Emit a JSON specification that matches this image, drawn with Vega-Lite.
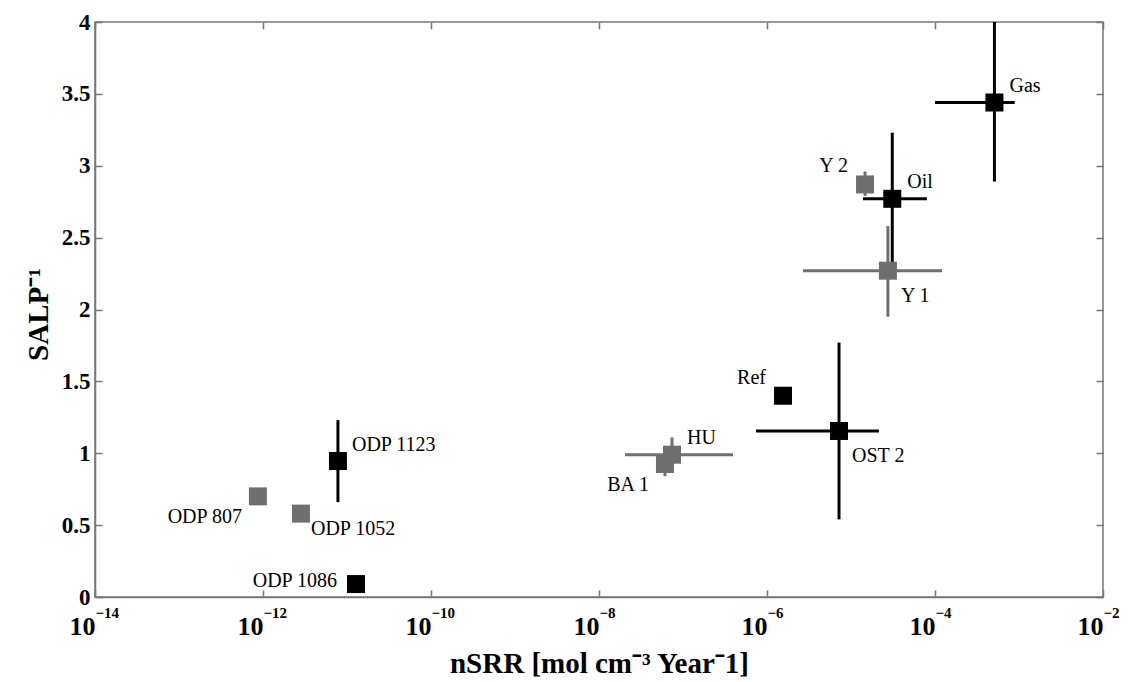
{
  "$schema": "https://vega.github.io/schema/vega-lite/v6.json",
  "width": 1008,
  "height": 575,
  "autosize": {"type": "none"},
  "padding": {"left": 95, "top": 22, "right": 27, "bottom": 85},
  "background": "white",
  "config": {
    "view": {"stroke": "#777777", "strokeWidth": 1.5},
    "font": "Liberation Serif",
    "axis": {
      "grid": false,
      "domainColor": "#777777",
      "domainWidth": 1.5,
      "tickColor": "#777777",
      "tickWidth": 1.5,
      "labelFont": "Liberation Serif",
      "labelFontWeight": "bold",
      "labelFontSize": 23,
      "labelColor": "#000000",
      "titleFont": "Liberation Serif",
      "titleFontWeight": "bold",
      "titleFontSize": 29,
      "titleColor": "#000000"
    }
  },
  "data": {
    "values": [
      {"name": "Gas", "set": "black", "x": 5.1e-4, "y": 3.44, "xlo": 1.0e-4, "xhi": 8.9e-4, "ylo": 2.89, "yhi": 4.0},
      {"name": "Oil", "set": "black", "x": 3.1e-5, "y": 2.77, "xlo": 1.39e-5, "xhi": 8.0e-5, "ylo": 2.31, "yhi": 3.23},
      {"name": "Y 2", "set": "gray", "x": 1.47e-5, "y": 2.87, "xlo": null, "xhi": null, "ylo": 2.79, "yhi": 2.96},
      {"name": "Y 1", "set": "gray", "x": 2.75e-5, "y": 2.27, "xlo": 2.68e-6, "xhi": 1.21e-4, "ylo": 1.95, "yhi": 2.58},
      {"name": "Ref", "set": "black", "x": 1.55e-6, "y": 1.40, "xlo": null, "xhi": null, "ylo": null, "yhi": null},
      {"name": "OST 2", "set": "black", "x": 7.2e-6, "y": 1.155, "xlo": 7.4e-7, "xhi": 2.15e-5, "ylo": 0.54, "yhi": 1.77},
      {"name": "HU", "set": "gray", "x": 7.4e-8, "y": 0.99, "xlo": 2.04e-8, "xhi": 3.94e-7, "ylo": 0.87, "yhi": 1.11},
      {"name": "BA 1", "set": "gray", "x": 6.1e-8, "y": 0.925, "xlo": null, "xhi": null, "ylo": 0.84, "yhi": 1.0},
      {"name": "ODP 1123", "set": "black", "x": 7.8e-12, "y": 0.946, "xlo": null, "xhi": null, "ylo": 0.66, "yhi": 1.23},
      {"name": "ODP 807", "set": "gray", "x": 8.7e-13, "y": 0.70, "xlo": null, "xhi": null, "ylo": null, "yhi": null},
      {"name": "ODP 1052", "set": "gray", "x": 2.83e-12, "y": 0.58, "xlo": null, "xhi": null, "ylo": null, "yhi": null},
      {"name": "ODP 1086", "set": "black", "x": 1.28e-11, "y": 0.09, "xlo": null, "xhi": null, "ylo": null, "yhi": null}
    ]
  },
  "resolve": {"axis": {"x": "independent", "y": "independent"}},
  "layer": [
    {
      "transform": [{"filter": "datum.xlo != null"}],
      "mark": {"type": "rule", "strokeWidth": 3, "clip": true},
      "encoding": {
        "x": {"field": "xlo", "type": "quantitative",
          "scale": {"type": "log", "domain": [1e-14, 1e-2], "nice": false},
          "axis": {
            "values": [1e-14, 1e-12, 1e-10, 1e-8, 1e-6, 1e-4, 1e-2],
            "labelExpr": "'10'",
            "labelFontSize": 26,
            "labelBaseline": "alphabetic",
            "labelAlign": "right",
            "tickSize": -7,
            "labelPadding": 44,
            "labelFlush": false,
            "labelOverlap": false,
            "title": "nSRR [mol cm⁻³ Year⁻1]",
            "titleBaseline": "alphabetic",
            "titleY": 75
          }},
        "x2": {"field": "xhi"},
        "y": {"field": "y", "type": "quantitative",
          "scale": {"domain": [0, 4], "nice": false},
          "axis": {
            "values": [0, 0.5, 1, 1.5, 2, 2.5, 3, 3.5, 4],
            "format": "~g",
            "tickSize": -7,
            "labelPadding": 12,
            "labelFlush": false,
            "title": "SALP⁻¹",
            "titleBaseline": "alphabetic",
            "titleX": -48,
            "titleY": 292
          }},
        "color": {"field": "set", "type": "nominal", "scale": {"domain": ["black", "gray"], "range": ["#000000", "#6f6f6f"]}, "legend": null}
      }
    },
    {
      "transform": [{"filter": "datum.ylo != null"}],
      "mark": {"type": "rule", "strokeWidth": 3, "clip": true},
      "encoding": {
        "x": {"field": "x", "type": "quantitative", "scale": {"type": "log"},
          "axis": {"orient": "top", "values": [1e-14, 1e-12, 1e-10, 1e-8, 1e-6, 1e-4, 1e-2], "labels": false, "tickSize": -7, "title": null, "domain": false}},
        "y": {"field": "ylo", "type": "quantitative",
          "axis": {"orient": "right", "values": [0, 0.5, 1, 1.5, 2, 2.5, 3, 3.5, 4], "labels": false, "tickSize": -7, "title": null, "domain": false}},
        "y2": {"field": "yhi"},
        "color": {"field": "set", "type": "nominal", "legend": null}
      }
    },
    {
      "mark": {"type": "square", "size": 324, "opacity": 1},
      "encoding": {
        "x": {"field": "x", "type": "quantitative",
          "axis": {
            "orient": "bottom",
            "values": [1e-14, 1e-12, 1e-10, 1e-8, 1e-6, 1e-4, 1e-2],
            "labelExpr": "datum.value < 1e-13 ? '−14' : datum.value < 1e-11 ? '−12' : datum.value < 1e-9 ? '−10' : datum.value < 1e-7 ? '−8' : datum.value < 1e-5 ? '−6' : datum.value < 1e-3 ? '−4' : '−2'",
            "labelFontSize": 15,
            "labelBaseline": "alphabetic",
            "labelAlign": "left",
            "ticks": false,
            "tickSize": 0,
            "domain": false,
            "labelPadding": 20,
            "labelFlush": false,
            "labelOverlap": false,
            "title": null
          }},
        "y": {"field": "y", "type": "quantitative", "axis": null},
        "color": {"field": "set", "type": "nominal", "legend": null}
      }
    },
    {
      "transform": [{"filter": {"field": "name", "oneOf": ["Gas", "Oil", "HU"]}}],
      "mark": {"type": "text", "align": "left", "baseline": "middle", "dx": 15, "dy": -17, "fontSize": 20, "font": "Liberation Serif", "color": "#000000"},
      "encoding": {
        "x": {"field": "x", "type": "quantitative", "axis": null},
        "y": {"field": "y", "type": "quantitative", "axis": null},
        "text": {"field": "name"}
      }
    },
    {
      "transform": [{"filter": {"field": "name", "oneOf": ["ODP 1123"]}}],
      "mark": {"type": "text", "align": "left", "baseline": "middle", "dx": 14, "dy": -16, "fontSize": 20, "font": "Liberation Serif", "color": "#000000"},
      "encoding": {
        "x": {"field": "x", "type": "quantitative", "axis": null},
        "y": {"field": "y", "type": "quantitative", "axis": null},
        "text": {"field": "name"}
      }
    },
    {
      "transform": [{"filter": {"field": "name", "oneOf": ["Y 2", "Ref"]}}],
      "mark": {"type": "text", "align": "right", "baseline": "middle", "dx": -17, "dy": -18, "fontSize": 20, "font": "Liberation Serif", "color": "#000000"},
      "encoding": {
        "x": {"field": "x", "type": "quantitative", "axis": null},
        "y": {"field": "y", "type": "quantitative", "axis": null},
        "text": {"field": "name"}
      }
    },
    {
      "transform": [{"filter": {"field": "name", "oneOf": ["Y 1", "OST 2"]}}],
      "mark": {"type": "text", "align": "left", "baseline": "middle", "dx": 13, "dy": 25, "fontSize": 20, "font": "Liberation Serif", "color": "#000000"},
      "encoding": {
        "x": {"field": "x", "type": "quantitative", "axis": null},
        "y": {"field": "y", "type": "quantitative", "axis": null},
        "text": {"field": "name"}
      }
    },
    {
      "transform": [{"filter": {"field": "name", "oneOf": ["BA 1", "ODP 807"]}}],
      "mark": {"type": "text", "align": "right", "baseline": "middle", "dx": -16, "dy": 21, "fontSize": 20, "font": "Liberation Serif", "color": "#000000"},
      "encoding": {
        "x": {"field": "x", "type": "quantitative", "axis": null},
        "y": {"field": "y", "type": "quantitative", "axis": null},
        "text": {"field": "name"}
      }
    },
    {
      "transform": [{"filter": {"field": "name", "oneOf": ["ODP 1052"]}}],
      "mark": {"type": "text", "align": "left", "baseline": "middle", "dx": 10, "dy": 15, "fontSize": 20, "font": "Liberation Serif", "color": "#000000"},
      "encoding": {
        "x": {"field": "x", "type": "quantitative", "axis": null},
        "y": {"field": "y", "type": "quantitative", "axis": null},
        "text": {"field": "name"}
      }
    },
    {
      "transform": [{"filter": {"field": "name", "oneOf": ["ODP 1086"]}}],
      "mark": {"type": "text", "align": "right", "baseline": "middle", "dx": -19, "dy": -3, "fontSize": 20, "font": "Liberation Serif", "color": "#000000"},
      "encoding": {
        "x": {"field": "x", "type": "quantitative", "axis": null},
        "y": {"field": "y", "type": "quantitative", "axis": null},
        "text": {"field": "name"}
      }
    }
  ]
}
